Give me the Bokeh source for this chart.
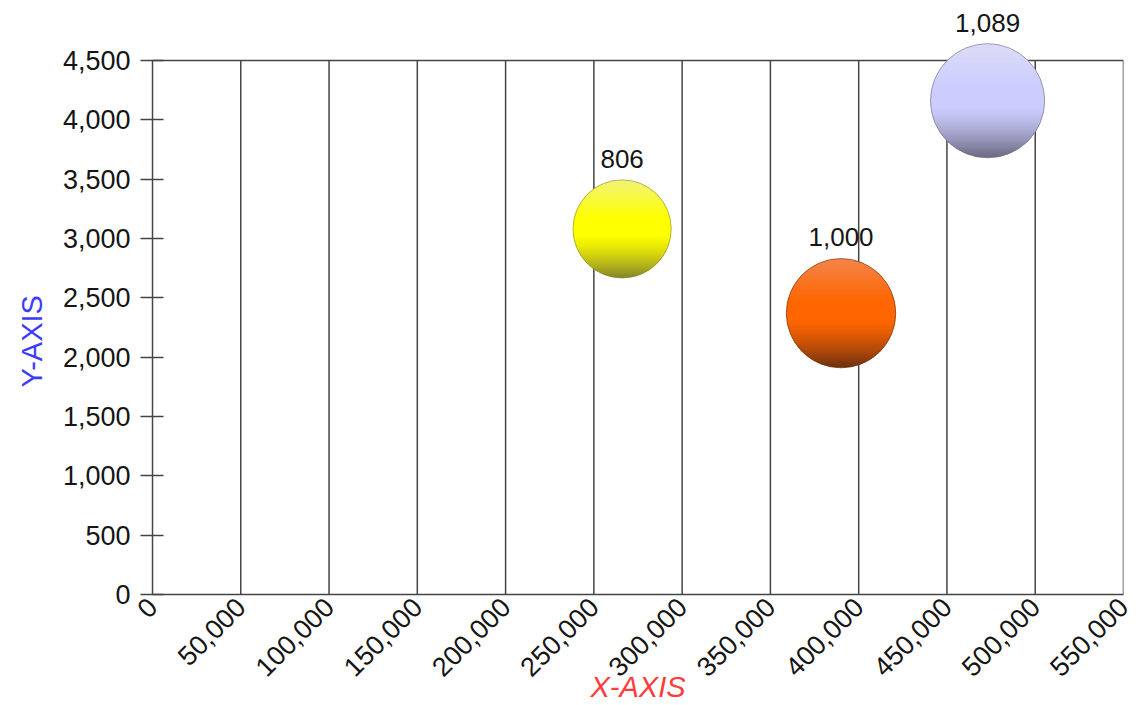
import math
import numpy as np
from bokeh.plotting import figure
from bokeh.models import (ColumnDataSource, Range1d, SingleIntervalTicker,
                          NumeralTickFormatter, Title)
from bokeh.core.properties import value
from bokeh.embed import file_html
from bokeh.resources import INLINE

# ---- data -------------------------------------------------------------
bubble_x = [266000, 390000, 473000]
bubble_y = [3080, 2370, 4160]
bubble_size = [806, 1000, 1089]
bubble_color = ["#ffff00", "#ff6600", "#ccccff"]
bubble_light = ["#f2f27a", "#f4844c", "#dcdcf6"]
bubble_dark = ["#86862a", "#6e3010", "#6a6a82"]

x_max = 550000
y_max = 4500
x_step = 50000
y_step = 500

# ---- layout -----------------------------------------------------------
W, H = 1143, 705
BL, BR, BB = 152, 20, 110
BOX_TOP = 60                      # pixel row of the top of the plotting box
FW = W - BL - BR
BOX_H = H - BB - BOX_TOP
UX = x_max / FW                   # data units per screen pixel
UY = y_max / BOX_H
y_top = y_max + BOX_TOP * UY      # room above the box for value labels
FONT = "Liberation Sans"
LINE = "#444444"
TEXT = "#151515"


def bubble_radius(v):
    # bubble area proportional to its value
    return 1.73 * math.sqrt(v)


def hex_rgb(c):
    c = c.lstrip("#")
    return [int(c[i:i + 2], 16) for i in (0, 2, 4)]


def mix(c1, c2, f):
    a, b = hex_rgb(c1), hex_rgb(c2)
    return "#%02x%02x%02x" % tuple(int(round(a[i] + (b[i] - a[i]) * f)) for i in range(3))


def shade(light, main, dark, t):
    # vertical shading: light top, saturated middle, dark bottom
    if t < 0.4:
        return mix(light, main, t / 0.4)
    if t < 0.55:
        return main
    return mix(main, dark, ((t - 0.55) / 0.45) ** 1.4)


p = figure(width=W, height=H, output_backend="svg", toolbar_location=None,
           x_range=Range1d(0, x_max), y_range=Range1d(0, y_top),
           min_border_left=BL, min_border_right=BR,
           min_border_top=0, min_border_bottom=BB,
           background_fill_color="white", border_fill_color="white")

p.outline_line_color = None
p.xgrid.grid_line_color = None
p.ygrid.grid_line_color = None

p.xaxis.ticker = SingleIntervalTicker(interval=x_step)
p.yaxis.ticker = SingleIntervalTicker(interval=y_step)
p.yaxis.bounds = (0, y_max)
for ax in (p.xaxis[0], p.yaxis[0]):
    ax.formatter = NumeralTickFormatter(format="0,0")
    ax.axis_line_color = LINE
    ax.axis_line_width = 1.5
    ax.major_tick_line_color = LINE
    ax.major_tick_line_width = 1.5
    ax.minor_tick_line_color = None
    ax.major_label_text_font = FONT
    ax.major_label_text_font_size = "27px"
    ax.major_label_text_color = TEXT

p.xaxis.major_tick_in = 0
p.xaxis.major_tick_out = 0
p.xaxis.major_label_orientation = math.pi / 4
p.xaxis.major_label_standoff = 4
p.yaxis.major_tick_in = 11
p.yaxis.major_tick_out = 12
p.yaxis.major_label_standoff = 10

p.xaxis.axis_label = "X-AXIS"
p.xaxis.axis_label_text_font = FONT
p.xaxis.axis_label_text_font_size = "29px"
p.xaxis.axis_label_text_font_style = "italic"
p.xaxis.axis_label_text_color = "#ff3b3b"
p.xaxis.axis_label_standoff = -17

p.add_layout(Title(text="Y-AXIS", align="left", offset=207, standoff=24,
                   text_font=FONT, text_font_size="29px",
                   text_font_style="normal", text_color="#3c3cff"), "left")

# ---- plotting box: vertical grid lines, right edge and top edge ----------
grid_x = list(range(x_step, x_max + 1, x_step))
p.segment(x0=grid_x, y0=[0] * len(grid_x), x1=grid_x, y1=[y_max] * len(grid_x),
          line_color=LINE, line_width=1.5)
p.segment(x0=[0], y0=[y_max], x1=[x_max], y1=[y_max],
          line_color=LINE, line_width=1.5)

# ---- shaded bubbles -----------------------------------------------------
N_BANDS = 60
xs, ys, fills = [], [], []
for cx, cy, v, main, light, dark in zip(bubble_x, bubble_y, bubble_size,
                                        bubble_color, bubble_light, bubble_dark):
    r = bubble_radius(v)
    for k in range(N_BANDS):
        top = r - 2 * r * k / N_BANDS
        bot = r - 2 * r * (k + 1) / N_BANDS
        top = min(r, top + 0.6)
        bot = max(-r, bot - 0.6)
        th = np.linspace(math.asin(bot / r), math.asin(top / r), 10)
        px = np.concatenate([r * np.cos(th), -r * np.cos(th[::-1])])
        py = np.concatenate([r * np.sin(th), r * np.sin(th[::-1])])
        xs.append(list(cx + px * UX))
        ys.append(list(cy + py * UY))
        fills.append(shade(light, main, dark, (k + 0.5) / N_BANDS))

p.patches(xs, ys, fill_color=fills, line_color=None)

src = ColumnDataSource(dict(
    x=bubble_x, y=bubble_y,
    d=[2 * bubble_radius(v) for v in bubble_size],
    edge=bubble_dark,
    label=[f"{v:,}" for v in bubble_size],
    yoff=[-(bubble_radius(v) + 12) for v in bubble_size],
))
p.scatter("x", "y", size="d", source=src, fill_color=None,
          line_color="edge", line_alpha=0.6, line_width=1)

p.text("x", "y", text="label", source=src, y_offset="yoff",
       text_font=value(FONT), text_font_size="26px", text_color=TEXT,
       text_align="center", text_baseline="bottom")

open("out.html", "w").write(file_html(p, INLINE))
